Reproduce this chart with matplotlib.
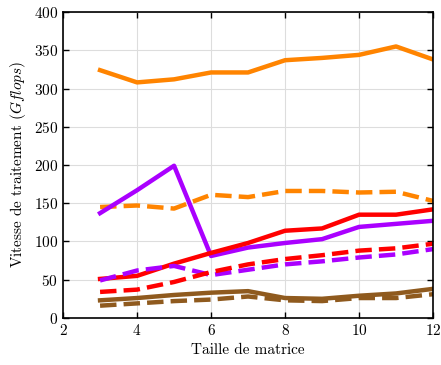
import matplotlib
matplotlib.use("Agg")
import matplotlib.pyplot as plt

plt.rcParams['font.family'] = 'cmr10'
plt.rcParams['mathtext.fontset'] = 'cm'
plt.rcParams['axes.formatter.use_mathtext'] = True
plt.rcParams['font.size'] = 11

sizes = [3, 4, 5, 6, 7, 8, 9, 10, 11, 12]

orange_solid = [324, 308, 312, 321, 321, 337, 340, 344, 355, 338]
orange_dashed = [145, 147, 143, 161, 158, 166, 166, 164, 165, 153]
purple_solid = [137, 167, 199, 81, 92, 98, 103, 119, 123, 127]
red_solid = [51, 55, 71, 85, 98, 114, 117, 135, 135, 142]
purple_dashed = [49, 62, 68, 56, 63, 70, 74, 79, 83, 90]
red_dashed = [34, 37, 47, 60, 70, 77, 82, 88, 91, 97]
brown_solid = [23, 26, 30, 33, 35, 26, 25, 29, 32, 38]
brown_dashed = [16, 19, 22, 24, 28, 23, 22, 26, 26, 31]

orange = '#ff8400'
purple = '#aa00ff'
red = '#ff0000'
brown = '#8f5a1e'

fig, ax = plt.subplots(figsize=(4.41, 3.65), dpi=100)
lw = 3.2
ax.plot(sizes, orange_solid, color=orange, lw=lw)
ax.plot(sizes, orange_dashed, color=orange, lw=lw, ls='--')
ax.plot(sizes, purple_solid, color=purple, lw=lw)
ax.plot(sizes, red_solid, color=red, lw=lw)
ax.plot(sizes, purple_dashed, color=purple, lw=lw, ls='--')
ax.plot(sizes, red_dashed, color=red, lw=lw, ls='--')
ax.plot(sizes, brown_solid, color=brown, lw=lw)
ax.plot(sizes, brown_dashed, color=brown, lw=lw, ls='--')

ax.set_xlim(2, 12)
ax.set_ylim(0, 400)
ax.set_xticks([2, 4, 6, 8, 10, 12])
ax.set_yticks(range(0, 401, 50))
ax.grid(True, color='#dddddd', lw=0.8)
ax.set_axisbelow(True)
ax.tick_params(direction='in', top=True, right=True, length=4, width=1)
for s in ax.spines.values():
    s.set_linewidth(1.2)
ax.set_xlabel('Taille de matrice')
ax.set_ylabel('Vitesse de traitement ($Gflops$)')

fig.subplots_adjust(left=0.143, right=0.982, top=0.967, bottom=0.129)
fig.savefig('out.png', dpi=100)
